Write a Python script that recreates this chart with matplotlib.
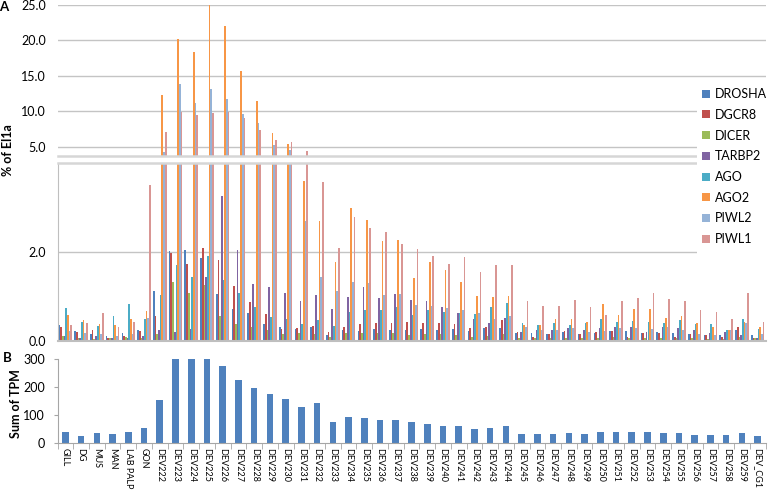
import numpy as np
import matplotlib
matplotlib.use("Agg")
import matplotlib.pyplot as plt
from matplotlib.patches import Patch, Rectangle

plt.rcParams['font.family'] = ['Lato', 'DejaVu Sans']

categories = ["GILL", "DG", "MUS", "MAN", "LAB PALP", "GON",
              "DEV222", "DEV223", "DEV224", "DEV225", "DEV226", "DEV227", "DEV228", "DEV229",
              "DEV230", "DEV231", "DEV232", "DEV233", "DEV234", "DEV235", "DEV236", "DEV237",
              "DEV238", "DEV239", "DEV240", "DEV241", "DEV242", "DEV243", "DEV244", "DEV245",
              "DEV246", "DEV247", "DEV248", "DEV249", "DEV250", "DEV251", "DEV252", "DEV253",
              "DEV254", "DEV255", "DEV256", "DEV257", "DEV258", "DEV259", "DEV_CG1"]

series_names = ["DROSHA", "DGCR8", "DICER", "TARBP2", "AGO", "AGO2", "PIWL2", "PIWL1"]

DROSHA = [0.35, 0.21, 0.15, 0.10, 0.18, 0.24, 1.12, 2.03, 2.05, 1.87, 1.05, 0.71, 0.62, 0.38, 0.30,
          0.26, 0.32, 0.13, 0.23, 0.22, 0.26, 0.24, 0.24, 0.26, 0.24, 0.27, 0.22, 0.28, 0.28, 0.18,
          0.18, 0.15, 0.20, 0.15, 0.18, 0.21, 0.21, 0.18, 0.19, 0.17, 0.14, 0.13, 0.12, 0.24, 0.13]
DGCR8 = [0.30, 0.20, 0.24, 0.06, 0.10, 0.21, 0.56, 1.97, 1.74, 2.10, 1.82, 1.23, 0.88, 0.60, 0.26,
         0.28, 0.34, 0.19, 0.31, 0.38, 0.40, 0.40, 0.43, 0.41, 0.41, 0.38, 0.28, 0.32, 0.47, 0.20,
         0.08, 0.14, 0.22, 0.15, 0.20, 0.21, 0.09, 0.18, 0.18, 0.09, 0.15, 0.13, 0.08, 0.30, 0.05]
DICER = [0.10, 0.05, 0.03, 0.05, 0.09, 0.05, 0.15, 1.32, 1.07, 1.25, 0.56, 0.38, 0.32, 0.23, 0.15,
         0.17, 0.15, 0.09, 0.18, 0.18, 0.18, 0.17, 0.13, 0.14, 0.14, 0.13, 0.09, 0.10, 0.15, 0.06,
         0.05, 0.05, 0.05, 0.05, 0.07, 0.09, 0.06, 0.06, 0.06, 0.05, 0.05, 0.04, 0.04, 0.09, 0.05]
TARBP2 = [0.10, 0.05, 0.10, 0.06, 0.07, 0.10, 0.24, 0.19, 0.26, 1.44, 3.27, 2.05, 1.28, 1.22, 1.08,
          0.90, 1.04, 0.71, 0.99, 1.21, 0.96, 1.05, 0.92, 0.89, 0.77, 0.63, 0.49, 0.41, 0.52, 0.20,
          0.24, 0.24, 0.28, 0.24, 0.28, 0.32, 0.32, 0.20, 0.30, 0.29, 0.24, 0.18, 0.20, 0.13, 0.05]
AGO = [0.73, 0.43, 0.33, 0.56, 0.83, 0.50, 1.03, 1.71, 1.44, 1.92, 1.37, 1.07, 0.76, 0.54, 0.48,
       0.38, 0.47, 0.33, 0.65, 0.69, 0.69, 0.77, 0.58, 0.69, 0.65, 0.63, 0.60, 0.77, 0.84, 0.39,
       0.35, 0.39, 0.35, 0.39, 0.49, 0.43, 0.45, 0.43, 0.39, 0.47, 0.38, 0.38, 0.23, 0.49, 0.26]
AGO2 = [0.58, 0.46, 0.38, 0.35, 0.49, 0.68, 12.3, 20.1, 18.3, 25.0, 22.0, 15.7, 11.4, 6.9, 5.4,
        3.59, 2.70, 1.77, 3.00, 2.73, 2.25, 2.27, 1.42, 1.77, 1.59, 1.32, 1.00, 0.98, 1.00, 0.35,
        0.35, 0.48, 0.50, 0.43, 0.82, 0.59, 0.71, 0.71, 0.52, 0.56, 0.39, 0.30, 0.24, 0.42, 0.32]
PIWL2 = [0.22, 0.17, 0.14, 0.10, 0.15, 0.52, 4.2, 13.8, 11.2, 13.1, 11.7, 9.6, 8.4, 5.2, 4.5,
         2.70, 1.44, 1.12, 1.32, 1.29, 1.04, 1.05, 0.80, 0.78, 0.73, 0.69, 0.62, 0.50, 0.56, 0.30,
         0.24, 0.24, 0.28, 0.20, 0.22, 0.28, 0.28, 0.26, 0.30, 0.24, 0.14, 0.13, 0.23, 0.41, 0.16]
PIWL1 = [0.36, 0.41, 0.62, 0.31, 0.43, 3.52, 7.1, 9.9, 9.5, 9.8, 9.9, 9.0, 7.4, 6.0, 5.6,
         4.4, 3.57, 2.10, 2.80, 2.54, 2.44, 2.18, 2.06, 1.91, 1.72, 1.88, 1.54, 1.71, 1.71, 0.90,
         0.78, 0.78, 0.92, 0.77, 0.58, 0.89, 0.96, 1.07, 0.93, 0.90, 0.69, 0.65, 0.48, 1.07, 0.43]

sum_tpm = [38, 24, 33, 30, 37, 53, 153, 300, 299, 300, 275, 225, 196, 173, 157, 128, 141, 73, 91,
           88, 81, 80, 73, 66, 60, 60, 49, 53, 59, 31, 30, 31, 33, 30, 37, 38, 38, 37, 35, 35, 27,
           26, 26, 33, 23]

upper_ticks = [5, 10, 15, 20, 25]
lower_ticks = [0, 2]
tpm_ticks = [0, 100, 200, 300]

colors = ["#4F81BD", "#C0504D", "#9BBB59", "#8064A2", "#4BACC6", "#F79646", "#95B3D7", "#D99694"]
series = [DROSHA, DGCR8, DICER, TARBP2, AGO, AGO2, PIWL2, PIWL1]

W, H = 768, 490
fig = plt.figure(figsize=(W / 100, H / 100), dpi=100)


def ax_px(x0, y0, x1, y1):
    return fig.add_axes([x0 / W, 1 - y1 / H, (x1 - x0) / W, (y1 - y0) / H])


ax_top = ax_px(57.5, 4.7, 765.5, 155.7)
ax_bot = ax_px(57.5, 163.3, 765.5, 340.7)
ax_b = ax_px(57.5, 359, 765.5, 442.7)

n = len(categories)
x = np.arange(n)
bw = 0.108
for j, (vals, col) in enumerate(zip(series, colors)):
    off = (j - 3.5) * bw
    ax_top.bar(x + off, vals, bw, color=col, linewidth=0, antialiased=False)
    ax_bot.bar(x + off, vals, bw, color=col, linewidth=0, antialiased=False)

grid_col = "#c4c4c4"
break_col = "#d6d6d6"
for ax in (ax_top, ax_bot):
    ax.set_xlim(-0.5, n - 0.5)
    ax.set_xticks([])
    ax.set_axisbelow(True)
    ax.yaxis.grid(True, color=grid_col, linewidth=1.0)
    ax.spines['right'].set_visible(False)
    ax.yaxis.set_major_formatter(matplotlib.ticker.FormatStrFormatter('%.1f'))
    ax.tick_params(axis='y', length=0, pad=8.5, labelsize=9)

ax_top.set_ylim(3.73, 25)
ax_top.set_yticks(upper_ticks)
ax_top.spines['top'].set_visible(False)
ax_top.spines['left'].set_visible(False)
ax_top.spines['bottom'].set_color(break_col)
ax_top.spines['bottom'].set_linewidth(1.8)

ax_bot.set_ylim(0, 4.0)
ax_bot.set_yticks(lower_ticks)
ax_bot.spines['top'].set_color(break_col)
ax_bot.spines['top'].set_linewidth(1.8)
ax_bot.spines['left'].set_color("#bfbfbf")
ax_bot.spines['bottom'].set_color("#bfbfbf")
ax_bot.spines['bottom'].set_linewidth(1.5)

# Panel B
ax_b.bar(x, sum_tpm, 0.42, color="#4F81BD", linewidth=0)
ax_b.set_xlim(-0.5, n - 0.5)
ax_b.set_ylim(0, 300)
ax_b.set_yticks(tpm_ticks)
ax_b.spines['top'].set_visible(False)
ax_b.spines['right'].set_visible(False)
ax_b.spines['left'].set_color("#a6a6a6")
ax_b.spines['bottom'].set_color("#a6a6a6")
ax_b.set_xticks(x)
ax_b.set_xticklabels(categories, rotation=270, fontsize=6.5, ha='center', va='top')
ax_b.set_xticks(np.arange(-0.5, n, 1), minor=True)
ax_b.tick_params(axis='x', which='major', length=0, pad=3.5)
ax_b.tick_params(axis='x', which='minor', length=4, color="#a6a6a6")
ax_b.tick_params(axis='y', length=3, color="#a6a6a6", pad=6, labelsize=9)

# legend area
fig.add_artist(Rectangle((697 / W, 1 - 258 / H), 71 / W, 178 / H, transform=fig.transFigure,
                         facecolor='white', edgecolor='none', zorder=4))
handles = [Patch(facecolor=c, edgecolor='none', label=s) for s, c in zip(series_names, colors)]
leg = fig.legend(handles=handles, loc='upper left', bbox_to_anchor=(702 / W, 1 - 88 / H),
                 frameon=False, fontsize=9, handlelength=0.6, handleheight=0.6,
                 handletextpad=0.45, labelspacing=0.7, borderaxespad=0, borderpad=0)
leg.set_zorder(6)

fig.text(4 / W, 1 - 7 / H, "A", fontsize=9.5, fontweight='bold', ha='center', va='center')
fig.text(7 / W, 1 - 358 / H, "B", fontsize=9.5, fontweight='bold', ha='center', va='center')
fig.text(8 / W, 1 - 150 / H, "% of El1a", fontsize=9, fontweight='bold', rotation=90,
         ha='center', va='center')
fig.text(16 / W, 1 - 404 / H, "Sum of TPM", fontsize=9, fontweight='bold', rotation=90,
         ha='center', va='center')

fig.savefig("out.png", dpi=100)
